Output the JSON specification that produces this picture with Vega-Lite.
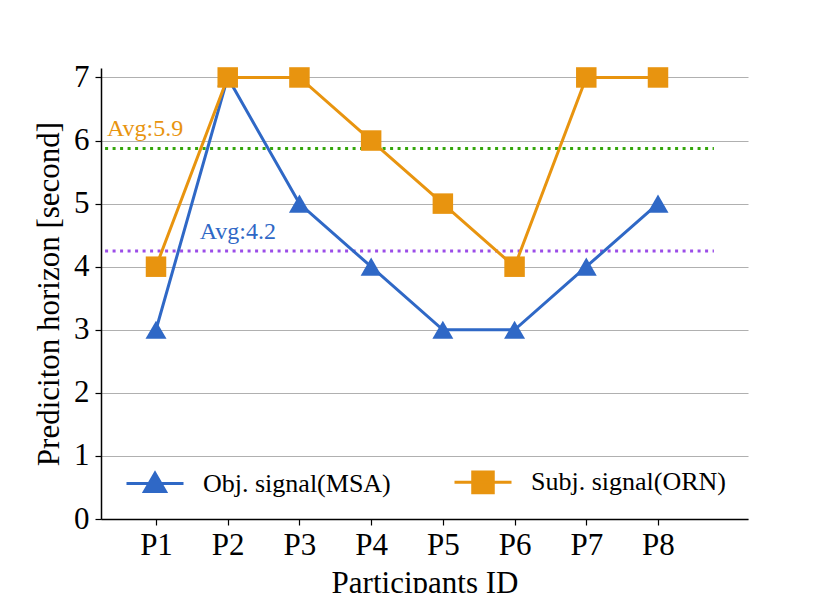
{
  "$schema": "https://vega.github.io/schema/vega-lite/v6.json",
  "width": 647,
  "height": 451,
  "autosize": "none",
  "padding": {"left": 101, "top": 68, "right": 82, "bottom": 74},
  "background": "white",
  "config": {"view": {"stroke": null}, "font": "Liberation Serif"},
  "datasets": {
    "main": [
      {"pid": 1, "value": 3, "series": "Obj. signal(MSA)"},
      {"pid": 2, "value": 7, "series": "Obj. signal(MSA)"},
      {"pid": 3, "value": 5, "series": "Obj. signal(MSA)"},
      {"pid": 4, "value": 4, "series": "Obj. signal(MSA)"},
      {"pid": 5, "value": 3, "series": "Obj. signal(MSA)"},
      {"pid": 6, "value": 3, "series": "Obj. signal(MSA)"},
      {"pid": 7, "value": 4, "series": "Obj. signal(MSA)"},
      {"pid": 8, "value": 5, "series": "Obj. signal(MSA)"},
      {"pid": 1, "value": 4, "series": "Subj. signal(ORN)"},
      {"pid": 2, "value": 7, "series": "Subj. signal(ORN)"},
      {"pid": 3, "value": 7, "series": "Subj. signal(ORN)"},
      {"pid": 4, "value": 6, "series": "Subj. signal(ORN)"},
      {"pid": 5, "value": 5, "series": "Subj. signal(ORN)"},
      {"pid": 6, "value": 4, "series": "Subj. signal(ORN)"},
      {"pid": 7, "value": 7, "series": "Subj. signal(ORN)"},
      {"pid": 8, "value": 7, "series": "Subj. signal(ORN)"}
    ]
  },
  "layer": [
    {
      "data": {"values": [{"avg": 5.875, "label": "Avg:5.9"}]},
      "mark": {"type": "rule", "color": "#35a60c", "strokeWidth": 3, "strokeDash": [3, 4.5]},
      "encoding": {
        "x": {"datum": 0.29, "type": "quantitative"},
        "x2": {"datum": 8.78},
        "y": {"field": "avg", "type": "quantitative"}
      }
    },
    {
      "data": {"values": [{"avg": 4.25, "label": "Avg:4.2"}]},
      "mark": {"type": "rule", "color": "#9b4de8", "strokeWidth": 3, "strokeDash": [3, 4.5]},
      "encoding": {
        "x": {"datum": 0.29, "type": "quantitative"},
        "x2": {"datum": 8.78},
        "y": {"field": "avg", "type": "quantitative"}
      }
    },
    {
      "data": {"values": [{"avg": 5.875, "label": "Avg:5.9"}]},
      "mark": {"type": "text", "color": "#e8940f", "fontSize": 24, "align": "left", "baseline": "alphabetic", "dy": -12, "font": "Liberation Serif"},
      "encoding": {
        "x": {"datum": 0.317, "type": "quantitative"},
        "y": {"field": "avg", "type": "quantitative"},
        "text": {"field": "label"}
      }
    },
    {
      "data": {"values": [{"avg": 4.25, "label": "Avg:4.2"}]},
      "mark": {"type": "text", "color": "#2f68c6", "fontSize": 24, "align": "left", "baseline": "alphabetic", "dy": -12, "font": "Liberation Serif"},
      "encoding": {
        "x": {"datum": 1.61, "type": "quantitative"},
        "y": {"field": "avg", "type": "quantitative"},
        "text": {"field": "label"}
      }
    },
    {
      "data": {"name": "main"},
      "mark": {"type": "line", "strokeWidth": 3},
      "encoding": {
        "x": {
          "field": "pid", "type": "quantitative",
          "scale": {"domain": [0.233, 9.255], "nice": false, "zero": false},
          "axis": {
            "values": [1, 2, 3, 4, 5, 6, 7, 8],
            "labelExpr": "'P' + datum.value",
            "title": "Participants ID",
            "grid": false,
            "domainColor": "black", "domainWidth": 1.5,
            "tickColor": "black", "tickWidth": 1.2, "tickSize": 6,
            "labelFont": "Liberation Serif", "labelFontSize": 31, "labelColor": "black", "labelPadding": 5,
            "titleFont": "Liberation Serif", "titleFontSize": 31, "titleFontWeight": "normal", "titleColor": "black", "titlePadding": 8
          }
        },
        "y": {
          "field": "value", "type": "quantitative",
          "scale": {"domain": [0, 7.15], "nice": false},
          "axis": {
            "values": [0, 1, 2, 3, 4, 5, 6, 7],
            "format": "d",
            "title": "Prediciton horizon [second]",
            "grid": true, "gridColor": "#b0b0b0", "gridWidth": 1.2,
            "domainColor": "black", "domainWidth": 1.5,
            "tickColor": "black", "tickWidth": 1.2, "tickSize": 6,
            "labelFont": "Liberation Serif", "labelFontSize": 31, "labelColor": "black", "labelPadding": 6,
            "titleFont": "Liberation Serif", "titleFontSize": 31, "titleFontWeight": "normal", "titleColor": "black", "titlePadding": 8
          }
        },
        "color": {
          "field": "series", "type": "nominal",
          "scale": {"domain": ["Obj. signal(MSA)", "Subj. signal(ORN)"], "range": ["#2f68c6", "#e8940f"]},
          "legend": {
            "orient": "none", "legendX": 24, "legendY": 384,
            "direction": "horizontal", "title": null, "padding": 0,
            "symbolSize": 3249, "symbolStrokeWidth": 3,
            "labelFont": "Liberation Serif", "labelFontSize": 26, "labelColor": "black", "labelOffset": 18, "labelLimit": 400,
            "columnPadding": 57,
            "encode": {
              "symbols": {
                "update": {
                  "shape": {"signal": "datum.value === 'Obj. signal(MSA)' ? 'M-1,0H1M0,-0.36L0.37,0.28H-0.37Z' : 'M-1,0H1M-0.36,-0.36H0.36V0.36H-0.36Z'"},
                  "fill": {"scale": "color", "field": "value"},
                  "stroke": {"scale": "color", "field": "value"},
                  "strokeWidth": {"value": 3},
                  "opacity": {"value": 1}
                }
              }
            }
          }
        }
      }
    },
    {
      "data": {"name": "main"},
      "transform": [{"filter": "datum.series === 'Obj. signal(MSA)'"}],
      "mark": {"type": "point", "shape": "triangle-up", "filled": true, "size": 440, "opacity": 1},
      "encoding": {
        "x": {"field": "pid", "type": "quantitative"},
        "y": {"field": "value", "type": "quantitative"},
        "color": {"field": "series", "type": "nominal"}
      }
    },
    {
      "data": {"name": "main"},
      "transform": [{"filter": "datum.series === 'Subj. signal(ORN)'"}],
      "mark": {"type": "point", "shape": "square", "filled": true, "size": 420, "opacity": 1},
      "encoding": {
        "x": {"field": "pid", "type": "quantitative"},
        "y": {"field": "value", "type": "quantitative"},
        "color": {"field": "series", "type": "nominal"}
      }
    }
  ]
}
